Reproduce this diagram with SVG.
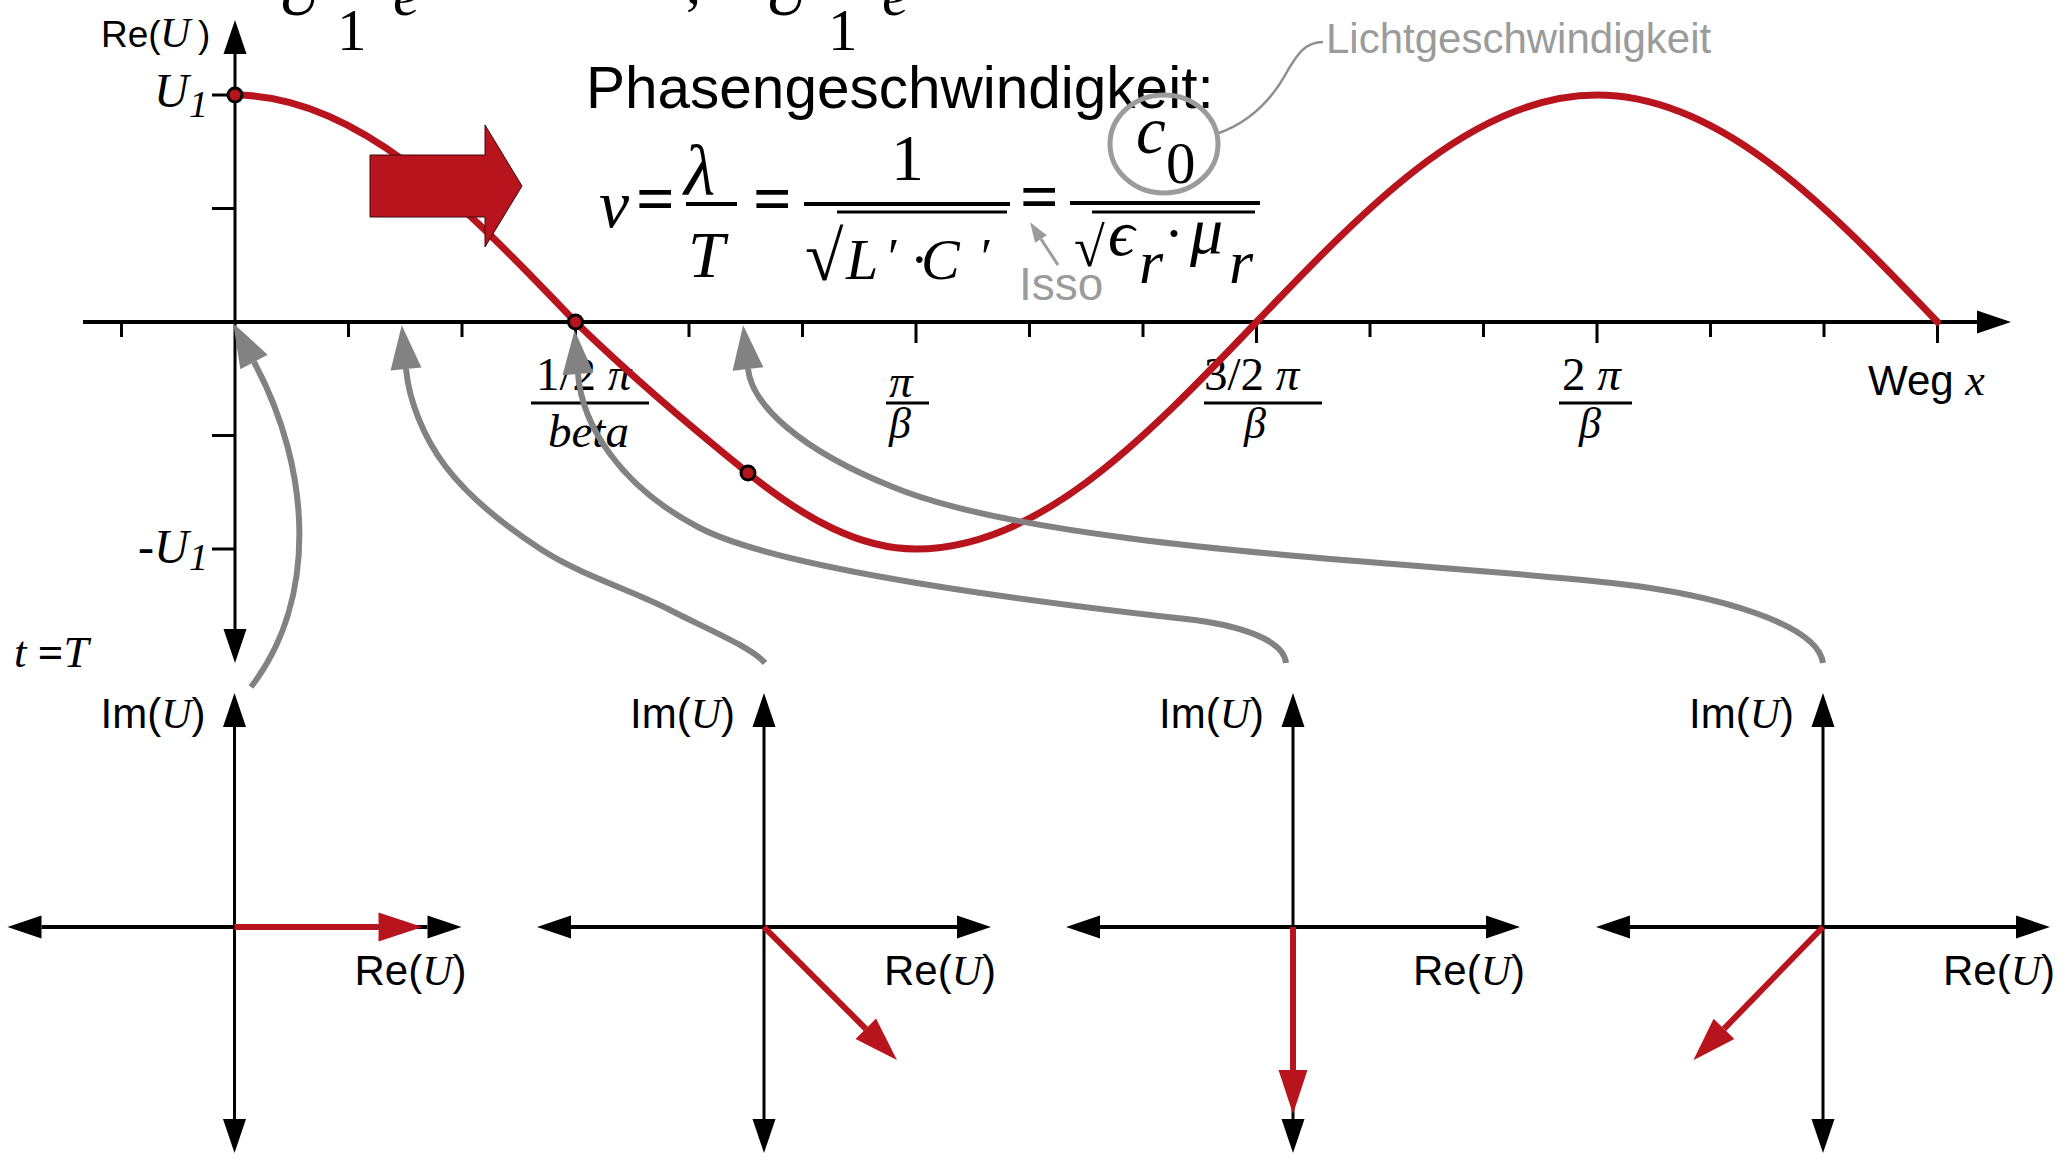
<svg xmlns="http://www.w3.org/2000/svg" width="2066" height="1160" viewBox="0 0 2066 1160">
<defs>
<style>
.sans{font-family:"Liberation Sans",Arial,sans-serif}
.serif{font-family:"Liberation Serif","Times New Roman","DejaVu Serif",serif}
.it{font-style:italic}
.ax{stroke:#000;fill:none}
.tick{stroke:#000;stroke-width:3;fill:none}
.fbar{stroke:#000;stroke-width:4}
.wave{stroke:#B8141E;stroke-width:7;fill:none;stroke-linecap:round}
.vec{stroke:#B8141E;stroke-width:6;fill:none}
.conn{stroke:#828282;stroke-width:6;fill:none}
.dot{fill:#B8141E;stroke:#000;stroke-width:3}
.lg{fill:#9b9b9b}
</style>
<marker id="ab" markerUnits="userSpaceOnUse" markerWidth="36" markerHeight="24" refX="0" refY="11.5" orient="auto-start-reverse" overflow="visible"><path d="M0,0 L34,11.5 L0,23 Z" fill="#000"/></marker>
<marker id="ar" markerUnits="userSpaceOnUse" markerWidth="46" markerHeight="30" refX="0" refY="14.5" orient="auto" overflow="visible"><path d="M0,0 L44,14.5 L0,29 Z" fill="#B8141E"/></marker>
<marker id="ag" markerUnits="userSpaceOnUse" markerWidth="46" markerHeight="32" refX="0" refY="15.5" orient="auto" overflow="visible"><path d="M0,0 L44,15.5 L0,31 Z" fill="#828282"/></marker>
<marker id="agl" markerUnits="userSpaceOnUse" markerWidth="22" markerHeight="16" refX="0" refY="7" orient="auto" overflow="visible"><path d="M0,0 L20,7 L0,14 Z" fill="#9b9b9b"/></marker>
</defs>
<rect width="2066" height="1160" fill="#fff"/>

<!-- top formula fragments (cut off at the top edge) -->
<g id="top-formula" class="serif">
<text x="277" y="15" font-size="60" class="it">U</text>
<text x="337" y="50" font-size="59">1</text>
<text x="393" y="15" font-size="60" class="it">e</text>
<text x="686" y="3" font-size="60">,</text>
<text x="764" y="15" font-size="60" class="it">U</text>
<text x="828" y="50" font-size="59">1</text>
<text x="882" y="15" font-size="60" class="it">e</text>
</g>

<!-- main graph axes -->
<g id="main-axes">
<line class="ax" x1="235" y1="54" x2="235" y2="629" stroke-width="3" marker-start="url(#ab)" marker-end="url(#ab)"/>
<line class="ax" x1="83" y1="322" x2="1977" y2="322" stroke-width="4" marker-end="url(#ab)"/>
<path class="tick" d="M121.5,322V337M348.5,322V337M462,322V337M689,322V337M802.5,322V337M1029.5,322V337M1143,322V337M1370,322V337M1483.5,322V337M1710.5,322V337M1824,322V337"/>
<path class="tick" d="M575.5,322V343M916,322V343M1256.5,322V343M1597,322V343M1937.5,322V343"/>
<path class="tick" d="M212,95H235M212,208.5H235M212,435.5H235M212,549H235"/>
</g>

<!-- axis labels -->
<g id="main-labels">
<text class="sans" x="101" y="47" font-size="37">Re(</text>
<text class="serif it" x="160" y="47" font-size="42">U</text>
<text class="sans" x="198" y="47" font-size="37">)</text>
<text class="serif it" x="154" y="107" font-size="48">U</text>
<text class="serif it" x="189" y="117" font-size="38">1</text>
<text class="serif it" x="138" y="563" font-size="48">-U</text>
<text class="serif it" x="189" y="570" font-size="38">1</text>
<text class="serif it" x="14" y="667" font-size="45">t <tspan font-style="normal" font-weight="bold">=</tspan>T</text>
<text class="serif" x="536" y="390" font-size="47">1/2 <tspan class="it">π</tspan></text>
<line class="tick" x1="531" y1="403" x2="649" y2="403"/>
<text class="serif it" x="548" y="447" font-size="47">beta</text>
<text class="serif it" x="889" y="397" font-size="47">π</text>
<line class="tick" x1="886" y1="403" x2="929" y2="403"/>
<text class="serif it" x="889" y="438" font-size="44">β</text>
<text class="serif" x="1204" y="390" font-size="47">3/2 <tspan class="it">π</tspan></text>
<line class="tick" x1="1204" y1="403" x2="1322" y2="403"/>
<text class="serif it" x="1244" y="438" font-size="44">β</text>
<text class="serif" x="1562" y="390" font-size="47">2 <tspan class="it">π</tspan></text>
<line class="tick" x1="1559" y1="403" x2="1632" y2="403"/>
<text class="serif it" x="1579" y="438" font-size="44">β</text>
<text class="sans" x="1868" y="395" font-size="42">Weg <tspan class="serif it" font-size="44">x</tspan></text>
</g>

<!-- wave -->
<g id="wave">
<path class="wave" d="M235,95 C291.75,95 348.5,119.48 405.25,161.5 C462,203.52 518.75,262.57 575.5,322 C633,378 691,427 748,473 C805,519 860,549 916,549 C972.75,549 1029.5,524.52 1086.25,482.5 C1143,440.48 1199.75,381.43 1256.5,322 C1313.25,262.57 1370,203.52 1426.75,161.5 C1483.5,119.48 1540.25,95 1597,95 C1653.75,95 1710.5,119.48 1767.25,161.5 C1824,203.52 1880.75,262.57 1937.5,322"/>
<circle class="dot" cx="235" cy="95" r="7"/>
<circle class="dot" cx="575.5" cy="322" r="7"/>
<circle class="dot" cx="748" cy="473" r="7"/>
</g>

<!-- big propagation arrow -->
<g id="direction-arrow">
<polygon points="370,155 485,155 485,125 522,186 485,247 485,217 370,217" fill="#B8141E" stroke="#3a0a0c" stroke-width="1"/>
</g>

<!-- phase velocity formula -->
<g id="formula">
<text class="sans" x="586" y="108" font-size="58.5">Phasengeschwindigkeit:</text>
<g class="serif">
<text class="it" x="599" y="227" font-size="68">v</text>
<text x="636" y="221" font-size="68" font-weight="bold">=</text>
<text class="it" x="684" y="195" font-size="72">λ</text>
<line class="fbar" x1="686" y1="204" x2="737" y2="204"/>
<text class="it" x="688" y="277" font-size="66">T</text>
<text x="753" y="221" font-size="68" font-weight="bold">=</text>
<line class="fbar" x1="804" y1="204" x2="1010" y2="204"/>
<text x="891" y="180" font-size="66">1</text>
<text x="805" y="280" font-size="70">√</text>
<line x1="837" y1="212" x2="1007" y2="212" stroke="#000" stroke-width="3"/>
<text class="it" x="846" y="279" font-size="58">L</text>
<text x="888" y="275" font-size="52">′</text>
<text x="910" y="279" font-size="56">·</text>
<text class="it" x="921" y="279" font-size="58">C</text>
<text x="981" y="275" font-size="52">′</text>
<text x="1020" y="219" font-size="68" font-weight="bold">=</text>
<text class="it" x="1136" y="153" font-size="67">c</text>
<text x="1166" y="183" font-size="59">0</text>
<line class="fbar" x1="1070" y1="203" x2="1260" y2="203"/>
<text x="1074" y="266" font-size="56">√</text>
<line x1="1092" y1="212" x2="1255" y2="212" stroke="#000" stroke-width="3"/>
<text class="it" x="1108" y="255" font-size="66">ϵ</text>
<text class="it" x="1139" y="283" font-size="62">r</text>
<text x="1164" y="253" font-size="60">·</text>
<text class="it" x="1190" y="253" font-size="66">μ</text>
<text class="it" x="1229" y="283" font-size="62">r</text>
</g>
<ellipse cx="1164" cy="144" rx="54" ry="49" fill="none" stroke="#9b9b9b" stroke-width="5"/>
<path d="M1323,42 C1305,42 1297,55 1288,70 C1272,100 1250,122 1219,133" fill="none" stroke="#8f8f8f" stroke-width="2.5"/>
<text class="sans lg" x="1326" y="53" font-size="42">Lichtgeschwindigkeit</text>
<path d="M1058,265 L1041,239" fill="none" stroke="#9b9b9b" stroke-width="3" marker-end="url(#agl)"/>
<text class="sans lg" x="1019" y="300" font-size="46">Isso</text>
</g>

<!-- phasor diagrams -->
<g id="phasor-1" transform="translate(234.5,927)">
<line class="ax" x1="0" y1="-200" x2="0" y2="192" stroke-width="3" marker-start="url(#ab)" marker-end="url(#ab)"/>
<line class="ax" x1="-193" y1="0" x2="193" y2="0" stroke-width="4" marker-start="url(#ab)" marker-end="url(#ab)"/>
<line class="vec" x1="0" y1="0" x2="144" y2="0" marker-end="url(#ar)"/>
<text class="sans" x="-134" y="-199" font-size="42">Im(<tspan class="serif it">U</tspan>)</text>
<text class="sans" x="120" y="58" font-size="42">Re(<tspan class="serif it">U</tspan>)</text>
</g>
<g id="phasor-2" transform="translate(764,927)">
<line class="ax" x1="0" y1="-200" x2="0" y2="192" stroke-width="3" marker-start="url(#ab)" marker-end="url(#ab)"/>
<line class="ax" x1="-193" y1="0" x2="193" y2="0" stroke-width="4" marker-start="url(#ab)" marker-end="url(#ab)"/>
<line class="vec" x1="0" y1="0" x2="101.8" y2="101.8" marker-end="url(#ar)"/>
<text class="sans" x="-134" y="-199" font-size="42">Im(<tspan class="serif it">U</tspan>)</text>
<text class="sans" x="120" y="58" font-size="42">Re(<tspan class="serif it">U</tspan>)</text>
</g>
<g id="phasor-3" transform="translate(1293,927)">
<line class="ax" x1="0" y1="-200" x2="0" y2="192" stroke-width="3" marker-start="url(#ab)" marker-end="url(#ab)"/>
<line class="ax" x1="-193" y1="0" x2="193" y2="0" stroke-width="4" marker-start="url(#ab)" marker-end="url(#ab)"/>
<line class="vec" x1="0" y1="0" x2="0" y2="143" marker-end="url(#ar)"/>
<text class="sans" x="-134" y="-199" font-size="42">Im(<tspan class="serif it">U</tspan>)</text>
<text class="sans" x="120" y="58" font-size="42">Re(<tspan class="serif it">U</tspan>)</text>
</g>
<g id="phasor-4" transform="translate(1823,927)">
<line class="ax" x1="0" y1="-200" x2="0" y2="192" stroke-width="3" marker-start="url(#ab)" marker-end="url(#ab)"/>
<line class="ax" x1="-193" y1="0" x2="193" y2="0" stroke-width="4" marker-start="url(#ab)" marker-end="url(#ab)"/>
<line class="vec" x1="0" y1="0" x2="-99" y2="101.8" marker-end="url(#ar)"/>
<text class="sans" x="-134" y="-199" font-size="42">Im(<tspan class="serif it">U</tspan>)</text>
<text class="sans" x="120" y="58" font-size="42">Re(<tspan class="serif it">U</tspan>)</text>
</g>

<!-- connectors from phasor diagrams to positions on the wave -->
<g id="connectors">
<path class="conn" d="M251,687 C318,600 312,470 254,362" marker-end="url(#ag)"/>
<path class="conn" d="M765,663 C751,647 707,629 670,610 C633,591 579,574 542,550 C505,526 469,497 446,467 C423,437 409,400 406,369" marker-end="url(#ag)"/>
<path class="conn" d="M1286,663 C1284,640 1240,625 1186,619 C1106,610 788,575 698,527 C620,486 582,425 578,374" marker-end="url(#ag)"/>
<path class="conn" d="M1823,663 C1818,625 1720,595 1612,583 C1412,561 1043,549 893,487 C800,450 752,405 748,369" marker-end="url(#ag)"/>
</g>
</svg>
